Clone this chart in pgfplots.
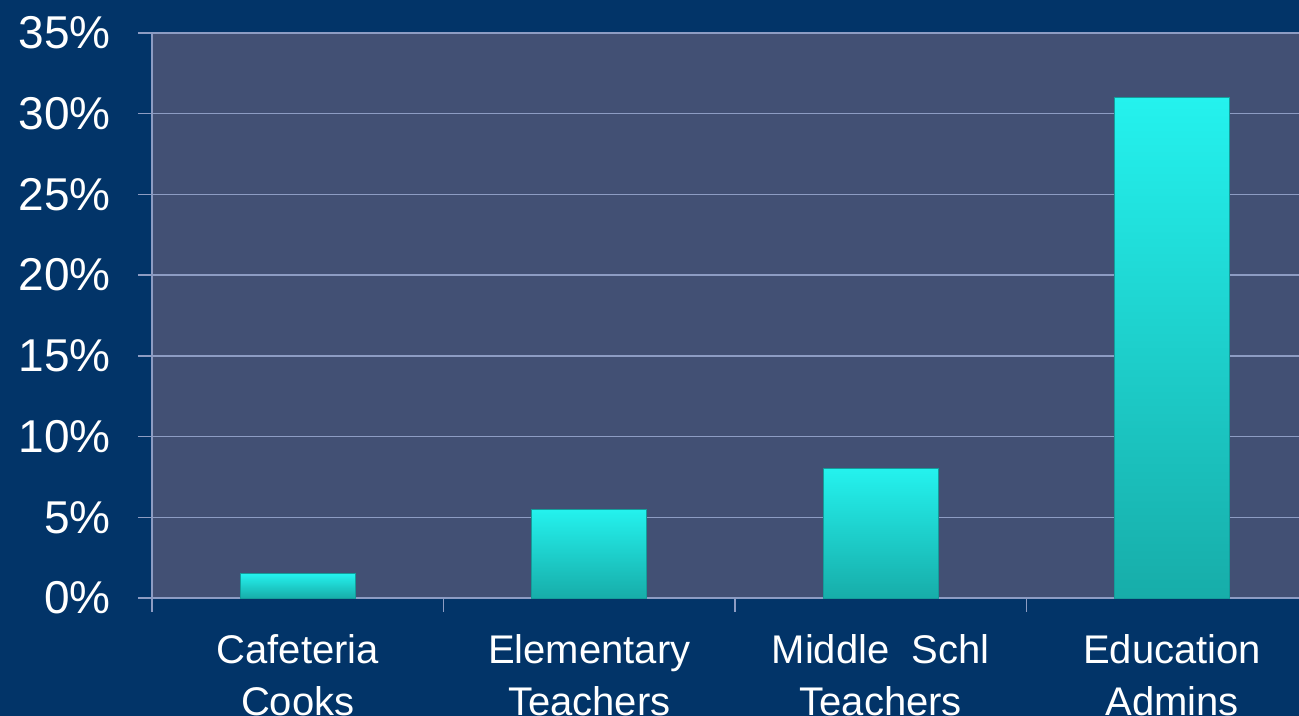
\documentclass[border=0pt]{standalone}
\usepackage{pgfplots}
\pgfplotsset{compat=1.18}
\usepackage{fontspec}
\setmainfont{Liberation Sans}
\definecolor{bgnavy}{HTML}{023468}
\definecolor{plotbg}{HTML}{425074}
\definecolor{gridc}{HTML}{8D9CC3}
\definecolor{bartop}{HTML}{24F2EE}
\definecolor{barbot}{HTML}{17ADA9}
\definecolor{baredge}{HTML}{149C9A}
\begin{document}
\begin{tikzpicture}
\path[use as bounding box] (0,0) rectangle (649.5pt,358pt);
\fill[bgnavy] (0,0) rectangle (649.5pt,358pt);
\begin{scope}
\clip (0,0) rectangle (649.5pt,358pt);
\begin{axis}[
  at={(76pt,59pt)}, anchor=south west,
  scale only axis, width=573.5pt, height=282.5pt,
  xmin=-0.5, xmax=3.435, ymin=0, ymax=35,
  axis background/.style={fill=plotbg},
  axis lines*=left,
  axis line style={gridc, line width=0.7pt},
  ymajorgrids, major grid style={gridc, line width=0.7pt},
  tick align=outside,
  tick style={gridc, line width=0.7pt},
  major tick length=7pt,
  ytick={0,5,10,15,20,25,30,35},
  yticklabels={0\%,5\%,10\%,15\%,20\%,25\%,30\%,35\%},
  yticklabel style={font=\fontsize{23}{23}\selectfont, text=white, inner sep=0pt, anchor=east, xshift=-13.5pt},
  xtick={-0.5,0.5,1.5,2.5},
  xticklabels={Cafeteria\\Cooks, Elementary\\Teachers, Middle\ \ Schl\\Teachers, Education\\Admins},
  xticklabel style={font=\fontsize{20}{26}\selectfont, text=white, align=center, inner sep=0pt, anchor=north, xshift=72.875pt, yshift=-11pt},
  ybar, bar width=57.5pt,
  clip=false,
]
\addplot[ybar, bar shift=0pt, draw=baredge, line width=0.4pt, top color=bartop, bottom color=barbot] coordinates {(0,1.5)};
\addplot[ybar, bar shift=0pt, draw=baredge, line width=0.4pt, top color=bartop, bottom color=barbot] coordinates {(1,5.5)};
\addplot[ybar, bar shift=0pt, draw=baredge, line width=0.4pt, top color=bartop, bottom color=barbot] coordinates {(2,8)};
\addplot[ybar, bar shift=0pt, draw=baredge, line width=0.4pt, top color=bartop, bottom color=barbot] coordinates {(3,31)};
\end{axis}
\end{scope}
\end{tikzpicture}
\end{document}
